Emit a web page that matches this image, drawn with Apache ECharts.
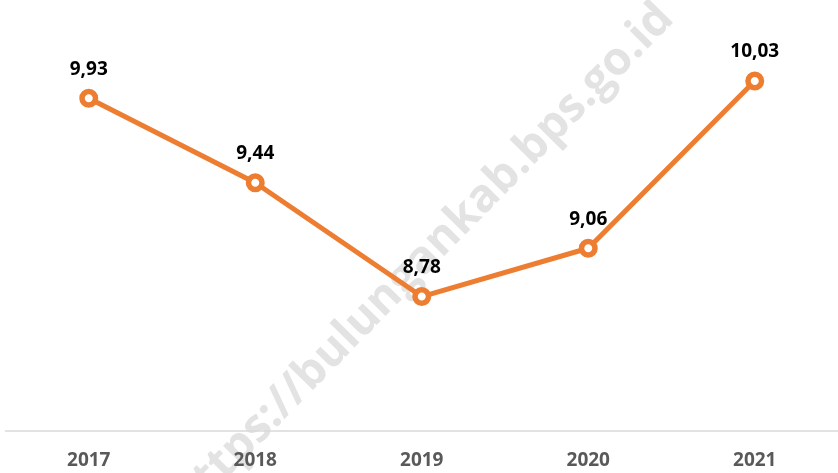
<!DOCTYPE html>
<html>
<head>
<meta charset="utf-8">
<script src="https://cdn.jsdelivr.net/npm/echarts@6/dist/echarts.min.js"></script>
<style>html,body{margin:0;padding:0;background:#fff}#c{width:838px;height:473px}</style>
</head>
<body>
<div id="c"></div>
<script>
var years = ['2017', '2018', '2019', '2020', '2021'];
var values = [9.93, 9.44, 8.78, 9.06, 10.03];
var watermark = 'https://bulungankab.bps.go.id';

var chart = echarts.init(document.getElementById('c'), null, {renderer: 'canvas'});
chart.setOption({
  animation: false,
  backgroundColor: '#ffffff',
  grid: {left: 5.5, right: -1.5, top: -1, bottom: 42, containLabel: false},
  graphic: [{
    type: 'text',
    z: 0,
    x: 423,
    y: 259,
    rotation: Math.PI / 4 + 0.01,
    style: {
      text: watermark,
      x: 0, y: 0,
      align: 'center',
      verticalAlign: 'middle',
      font: 'bold 46px "Open Sans"',
      fill: '#e3e3e3'
    }
  }],
  xAxis: {
    type: 'category',
    data: years,
    boundaryGap: true,
    axisLine: {lineStyle: {color: '#d9d9d9', width: 1.5}},
    axisTick: {alignWithLabel: true, length: 5, lineStyle: {color: '#d9d9d9'}},
    axisLabel: {color: '#595959', fontSize: 19, fontWeight: 'bold', fontFamily: 'Open Sans', margin: 20}
  },
  yAxis: {
    type: 'value',
    min: 8,
    max: 10.5,
    show: false,
    splitLine: {show: false}
  },
  series: [{
    type: 'line',
    z: 5,
    data: values,
    symbol: 'circle',
    symbolSize: 13.5,
    lineStyle: {color: '#ED7D31', width: 5},
    itemStyle: {color: '#ffffff', borderColor: '#ED7D31', borderWidth: 5.5},
    label: {
      show: true,
      position: 'top',
      distance: 10,
      color: '#000000',
      fontSize: 19,
      fontWeight: 'bold',
      fontFamily: 'Open Sans',
      formatter: function (p) { return p.value.toFixed(2).replace('.', ','); }
    }
  }]
});
</script>
</body>
</html>
